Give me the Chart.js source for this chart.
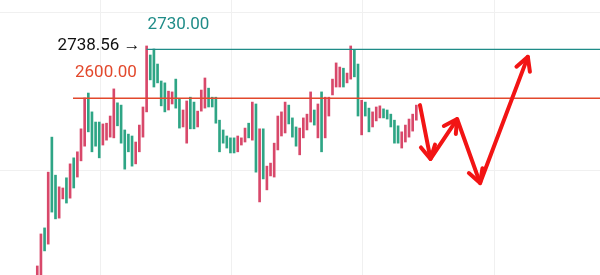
<!DOCTYPE html>
<html>
<head>
<meta charset="utf-8">
<script src="https://cdn.jsdelivr.net/npm/chart.js@4.4.1/dist/chart.umd.min.js"></script>
<style>
  html, body { margin: 0; padding: 0; background: #fff; }
  #wrap { width: 600px; height: 275px; position: relative; }
</style>
</head>
<body>
<div id="wrap"><canvas id="klineChart"></canvas></div>
<script>
// candle highs / lows, R = red candle, G = green candle
var highs = [2155, 2240, 2256, 2404, 2497, 2396, 2365, 2362, 2389, 2426,
  2442, 2458, 2519, 2601, 2614, 2564, 2537, 2537, 2532, 2534,
  2553, 2625, 2588, 2582, 2516, 2505, 2500, 2484, 2529, 2577,
  2739, 2715, 2731, 2691, 2646, 2641, 2619, 2617, 2651, 2598,
  2569, 2593, 2603, 2590, 2566, 2622, 2654, 2627, 2603, 2603,
  2542, 2516, 2500, 2495, 2495, 2500, 2495, 2521, 2534, 2590,
  2585, 2519, 2519, 2420, 2428, 2481, 2553, 2564, 2590, 2582,
  2548, 2524, 2521, 2548, 2558, 2617, 2569, 2585, 2617, 2603,
  2603, 2651, 2694, 2683, 2680, 2667, 2739, 2728, 2691, 2595,
  2590, 2574, 2564, 2577, 2580, 2572, 2569, 2558, 2542, 2527,
  2511, 2529, 2545, 2558, 2582];
var lows = [2110, 2110, 2195, 2213, 2298, 2280, 2282, 2333, 2322, 2335,
  2362, 2391, 2434, 2473, 2511, 2458, 2473, 2442, 2476, 2489,
  2497, 2495, 2527, 2481, 2412, 2458, 2420, 2426, 2458, 2497,
  2564, 2649, 2630, 2641, 2580, 2564, 2569, 2585, 2574, 2521,
  2524, 2481, 2519, 2519, 2524, 2566, 2574, 2577, 2577, 2534,
  2458, 2481, 2468, 2455, 2455, 2458, 2476, 2484, 2495, 2489,
  2404, 2325, 2386, 2357, 2394, 2391, 2463, 2500, 2508, 2532,
  2497, 2473, 2450, 2495, 2516, 2537, 2529, 2495, 2458, 2495,
  2553, 2609, 2630, 2630, 2630, 2641, 2651, 2657, 2553, 2503,
  2553, 2511, 2524, 2540, 2548, 2548, 2545, 2524, 2481, 2481,
  2468, 2484, 2497, 2513, 2542];
var dirs = "RRGRGGRRGRGRRRGGGGRRRRGGGGGRRRRGGGGGRRGGRRGGRRRGGGGGGGGRRRGRGRGRRRRRRGGGRRRRGRGRRRRRGRRGGRGGRRRGGGGGRRRRR".split("");

// horizontal levels: price, first candle index, colour, label
var levels = [
  { price: 2730, from: 30, color: "#1f8c88", label: "2730.00" },
  { price: 2600, from: 9.8, color: "#e2482c", label: "2600.00" }
];
var peakLabel = "2738.56 \u2192";

// hand drawn arrows (candle index, price)
var arrowPath = [[105, 2582], [107.9, 2439], [115.2, 2545], [121.5, 2375], [134.6, 2710]];

// faint grid lines
var gridX = [17.2, 53.2, 89.2, 125.2];
var gridY = [2410, 2829];

var candleData = highs.map(function (h, i) {
  return { x: i, y: [lows[i], h] };
});
var candleColors = dirs.map(function (d) {
  return d === "R" ? "#d8486a" : "#2ea585";
});

var gridPlugin = {
  id: "grid",
  beforeDatasetsDraw: function (chart) {
    var c = chart.ctx, xs = chart.scales.x, ys = chart.scales.y, a = chart.chartArea;
    c.save();
    c.strokeStyle = "#f0f0f0";
    c.lineWidth = 1;
    gridX.forEach(function (v) {
      var px = Math.round(xs.getPixelForValue(v)) + 0.5;
      c.beginPath(); c.moveTo(px, a.top); c.lineTo(px, a.bottom); c.stroke();
    });
    gridY.forEach(function (v) {
      var py = Math.round(ys.getPixelForValue(v)) + 0.5;
      c.beginPath(); c.moveTo(a.left, py); c.lineTo(a.right, py); c.stroke();
    });
    c.restore();
  }
};

var drawPlugin = {
  id: "marks",
  afterDatasetsDraw: function (chart) {
    var c = chart.ctx, xs = chart.scales.x, ys = chart.scales.y, a = chart.chartArea;
    c.save();
    // levels
    levels.forEach(function (l) {
      var py = ys.getPixelForValue(l.price);
      var px = xs.getPixelForValue(l.from);
      c.strokeStyle = l.color;
      c.lineWidth = 1.4;
      c.beginPath(); c.moveTo(px, py); c.lineTo(a.right, py); c.stroke();
    });
    c.font = "17px Roboto";
    c.textBaseline = "middle";
    var top = levels[0], mid = levels[1];
    var tx = xs.getPixelForValue(top.from), ty = ys.getPixelForValue(top.price);
    c.fillStyle = top.color;
    c.textAlign = "left";
    c.fillText(top.label, tx + 1, ty - 25);
    c.fillStyle = "#111";
    c.textAlign = "right";
    c.fillText(peakLabel, tx - 6, ty - 4);
    c.fillStyle = mid.color;
    c.textAlign = "left";
    c.fillText(mid.label, xs.getPixelForValue(mid.from) + 2, ys.getPixelForValue(mid.price) - 26);

    // arrows
    c.strokeStyle = "#f21414";
    c.lineWidth = 4;
    c.lineCap = "round";
    c.lineJoin = "round";
    var pts = arrowPath.map(function (p) {
      return [xs.getPixelForValue(p[0]), ys.getPixelForValue(p[1])];
    });
    c.beginPath();
    pts.forEach(function (p, i) { if (i === 0) c.moveTo(p[0], p[1]); else c.lineTo(p[0], p[1]); });
    c.stroke();
    for (var i = 1; i < pts.length; i++) {
      var p0 = pts[i - 1], p1 = pts[i];
      var ang = Math.atan2(p1[1] - p0[1], p1[0] - p0[0]);
      var len = 15;
      c.beginPath();
      c.moveTo(p1[0] - len * Math.cos(ang - 0.5), p1[1] - len * Math.sin(ang - 0.5));
      c.lineTo(p1[0], p1[1]);
      c.lineTo(p1[0] - len * Math.cos(ang + 0.5), p1[1] - len * Math.sin(ang + 0.5));
      c.stroke();
    }
    c.restore();
  }
};

var ctx = document.getElementById("klineChart").getContext("2d");

var klineChart = new Chart(ctx, {
  type: "bar",
  data: {
    datasets: [{
      data: candleData,
      backgroundColor: candleColors,
      barThickness: 2,
      borderWidth: 0
    }]
  },
  options: {
    responsive: true,
    maintainAspectRatio: false,
    animation: false,
    layout: { padding: 0 },
    plugins: { legend: { display: false }, tooltip: { enabled: false } },
    scales: {
      x: { type: "linear", min: -10.23, max: 154.4, offset: false, display: false },
      y: { min: 2131, max: 2861, display: false }
    }
  },
  plugins: [gridPlugin, drawPlugin]
});
</script>
</body>
</html>
